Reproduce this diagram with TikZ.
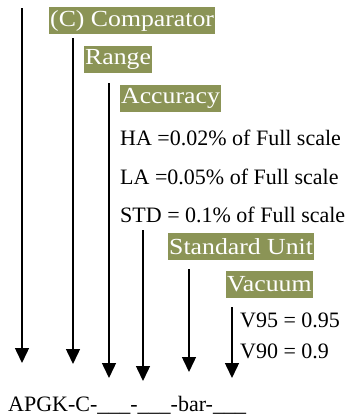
\documentclass[tikz,border=0pt]{standalone}
\usepackage{fontspec}
\setmainfont{Liberation Serif}
\newfontfamily\tagfont[FakeStretch=1.12]{Liberation Serif}
\usepackage{xcolor}
\usetikzlibrary{arrows.meta}

\definecolor{tagolive}{RGB}{139,148,86}

\tikzset{
  tag/.style={fill=tagolive, text=white, font=\tagfont\fontsize{23}{27}\selectfont, anchor=west, inner xsep=1pt, inner ysep=0pt, minimum height=27pt},
  note/.style={anchor=base west, inner sep=0pt},
  pointer/.style={line width=1.5pt, -{Triangle[width=14pt,length=15pt]}}
}

\begin{document}
\begin{tikzpicture}[x=1pt, y=-1pt, font=\fontsize{22}{26}\selectfont]

  \useasboundingbox (0,0) rectangle (352,416);

  % Define nodes
  \node[tag] (comparator) at (49,20.5) {(C) Comparator};
  \node[tag] (range) at (84,59.5) {Range};
  \node[tag] (accuracy) at (120,98.5) {Accuracy};

  \node[note] (ha) at (120,145) {HA =0.02\% of Full scale};
  \node[note] (la) at (120,184) {LA =0.05\% of Full scale};
  \node[note] (std) at (120,222) {STD = 0.1\% of Full scale};

  \node[tag] (unit) at (168,246.5) {Standard Unit};
  \node[tag] (vacuum) at (226,284.5) {Vacuum};

  \node[note] (v95) at (240,327) {V95 = 0.95};
  \node[note] (v90) at (240,358) {V90 = 0.9};

  \node[note] (code) at (8,411) {APGK-C-\_\_\_-\_\_\_-bar-\_\_\_};

  % Arrow ends
  \coordinate (top_model) at (22,8);
  \coordinate (tip_model) at (22,363);
  \coordinate (top_comparator) at (73,38);
  \coordinate (tip_comparator) at (73,364);
  \coordinate (top_range) at (109,83);
  \coordinate (tip_range) at (109,378);
  \coordinate (top_accuracy) at (143,230);
  \coordinate (tip_accuracy) at (143,381);
  \coordinate (top_unit) at (189,269);
  \coordinate (tip_unit) at (189,372);
  \coordinate (top_vacuum) at (232,307);
  \coordinate (tip_vacuum) at (232,378);

  % Connect
  \draw[pointer] (top_model) -- (tip_model);
  \draw[pointer] (top_comparator) -- (tip_comparator);
  \draw[pointer] (top_range) -- (tip_range);
  \draw[pointer] (top_accuracy) -- (tip_accuracy);
  \draw[pointer] (top_unit) -- (tip_unit);
  \draw[pointer] (top_vacuum) -- (tip_vacuum);

\end{tikzpicture}
\end{document}
